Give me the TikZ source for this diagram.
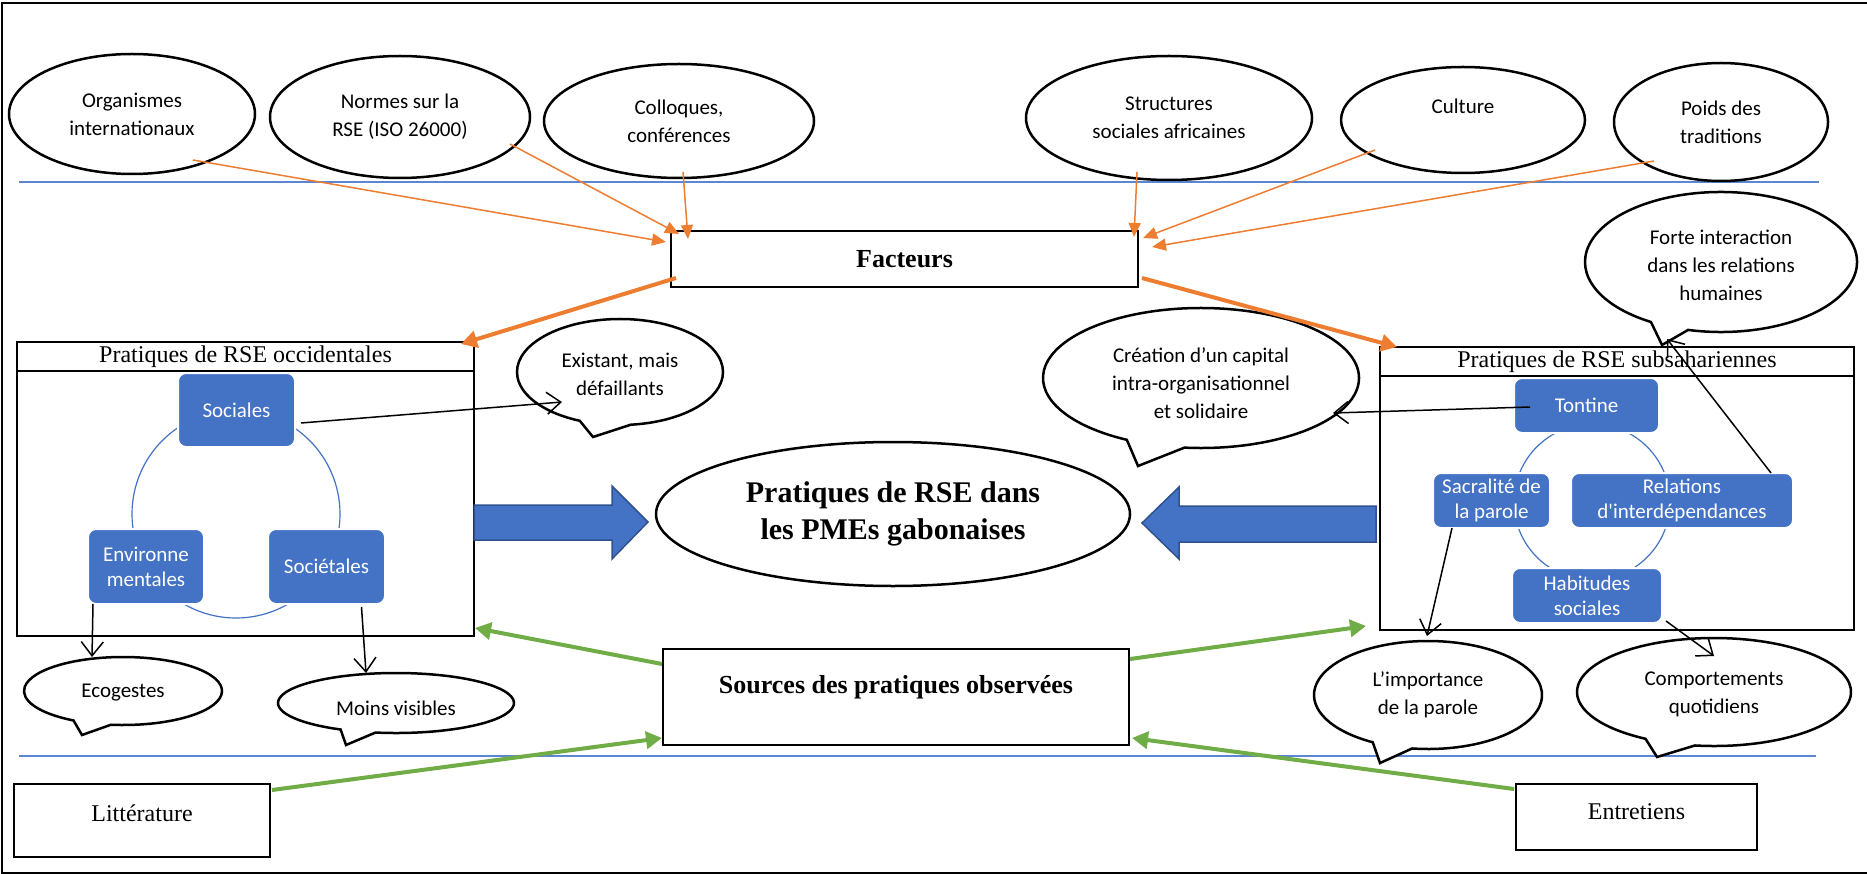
\documentclass[tikz,border=0pt]{standalone}
\usepackage{fontspec}
\setmainfont{Liberation Serif}
\newfontfamily\calib{Carlito}
\usetikzlibrary{shapes.geometric,arrows.meta}
\definecolor{bxblue}{HTML}{4472C4}
\definecolor{bxdark}{HTML}{2F528F}
\definecolor{orng}{HTML}{ED7D31}
\definecolor{grn}{HTML}{70AD47}
\definecolor{sepblue}{HTML}{5B86D1}
\newcommand\mycallout[8]{%
  \draw[callshape] (#1,#2) ++(#5:#3 and #4) arc[start angle=#5, end angle=#6, x radius=#3, y radius=#4] -- (#7,#8) -- cycle;}
\begin{document}
\begin{tikzpicture}[x=1pt,y=-1pt,
  oval/.style={ellipse, draw, line width=2.5pt, fill=white, inner sep=0pt, align=center, font=\calib\fontsize{21}{28}\selectfont},
  calltext/.style={inner sep=0pt, align=center, font=\calib\fontsize{21}{28}\selectfont},
  callshape/.style={draw, line width=2.5pt, fill=white, line join=miter},
  plainbox/.style={rectangle, draw, line width=2pt, fill=white, inner sep=0pt},
  bbox/.style={rectangle, rounded corners=8pt, fill=bxblue, draw=white, line width=2pt, text=white, inner sep=0pt, align=center, font=\calib\fontsize{21}{25}\selectfont},
  sepline/.style={draw=sepblue, line width=1.5pt},
  thinor/.style={draw=orng, line width=1.5pt, -{Triangle[length=14pt,width=12pt]}},
  thickor/.style={draw=orng, line width=4pt, -{Triangle[length=16pt,width=17pt]}},
  grarrow/.style={draw=grn, line width=4pt, -{Triangle[length=16pt,width=17pt]}},
  blk/.style={draw=black, line width=1.5pt, -{Straight Barb[length=14pt,width=22pt]}},
  ringline/.style={draw=bxblue, line width=1.2pt},
  blockarrow/.style={fill=bxblue, draw=bxdark, line width=1.5pt, line join=miter},
  sertitle/.style={inner sep=0pt, font=\fontsize{24}{28}\selectfont},
  boldtitle/.style={inner sep=0pt, font=\bfseries\fontsize{26}{30}\selectfont}
]
\useasboundingbox (0,0) rectangle (1867,874);
% frame
\draw[line width=2pt] (1867,3) -- (1.5,3) -- (1.5,872.5) -- (1867,872.5);
\draw[sepline] (19,182) -- (1819,182);
\draw[sepline] (19,756) -- (1816,756);

% top ellipses
\node[oval, minimum width=246, minimum height=120] (org) at (132,114) {Organismes\\internationaux};
\node[oval, minimum width=260, minimum height=122] (normes) at (400,117) {Normes sur la\\RSE (ISO 26000)};
\node[oval, minimum width=270, minimum height=114] (coll) at (679,121) {Colloques,\\conférences};
\node[oval, minimum width=286, minimum height=124] (struct) at (1169,118) {Structures\\sociales africaines};
\node[oval, minimum width=244, minimum height=106] (cult) at (1463,120) {Culture\\[0pt]\mbox{}};
\node[oval, minimum width=214, minimum height=118] (poids) at (1721,122) {Poids des\\traditions};

% Facteurs
\node[plainbox, minimum width=467, minimum height=56, font=\bfseries\fontsize{26}{30}\selectfont] (fact) at (904.5,259) {Facteurs};

\draw[thinor] ([shift={(61,46)}]org.center) -- ([shift={(-4,12)}]fact.north west);
\draw[thinor] ([shift={(110,27)}]normes.center) -- ([shift={(9,4)}]fact.north west);
\draw[thinor] ([shift={(4,51)}]coll.center) -- ([shift={(18,9)}]fact.north west);
\draw[thinor] ([shift={(-32,54)}]struct.center) -- ([shift={(-5,7)}]fact.north east);
\draw[thinor] ([shift={(-88,30)}]cult.center) -- ([shift={(4,8)}]fact.north east);
\draw[thinor] ([shift={(-67,39)}]poids.center) -- ([shift={(13,17)}]fact.north east);

% left practices box
\node[plainbox, minimum width=457, minimum height=294] (lbox) at (245.5,489) {};
\draw[line width=2pt] (lbox.west |- 0,371) -- (lbox.east |- 0,371);
\node[sertitle] (ltitle) at (245.5,357) {Pratiques de RSE occidentales};
\draw[ringline] (236,514) circle[radius=104];
\node[bbox, minimum width=117, minimum height=74] (soc) at (236.5,410) {Sociales};
\node[bbox, minimum width=116, minimum height=75] (env) at (146,566.5) {Environne\\mentales};
\node[bbox, minimum width=117, minimum height=75] (societ) at (326.5,566.5) {Sociétales};

% right practices box
\node[plainbox, minimum width=474, minimum height=283] (rbox) at (1617,488.5) {};
\draw[line width=2pt] (rbox.west |- 0,376) -- (rbox.east |- 0,376);
\node[sertitle] (rtitle) at (1617,362) {Pratiques de RSE subsahariennes};
\draw[ringline] (1592,502) circle[radius=78];
\node[bbox, minimum width=145, minimum height=55] (tont) at (1586.5,405.5) {Tontine};
\node[bbox, minimum width=117, minimum height=55] (sacr) at (1491.5,500.5) {Sacralité de\\la parole};
\node[bbox, minimum width=222, minimum height=55] (rel) at (1682,500.5) {Relations\\d'interdépendances};
\node[bbox, minimum width=150, minimum height=55] (hab) at (1587,595.5) {Habitudes\\sociales};

% central ellipse
\node[oval, minimum width=474, minimum height=144, font=\normalfont\bfseries\fontsize{30}{37}\selectfont] (pme) at (893,514) {Pratiques de RSE dans\\les PMEs gabonaises};

% block arrows
\draw[blockarrow] (474,505) -- (612,505) -- (612,486) -- (648,522) -- (612,559) -- (612,540) -- (474,540) -- cycle;
\draw[blockarrow] (1376,506) -- (1179,506) -- (1179,487) -- (1142,523) -- (1179,559) -- (1179,542) -- (1376,542) -- cycle;

% sources
\node[plainbox, minimum width=466, minimum height=96] (src) at (896,697) {};
\node[boldtitle] (srctext) at (896,687) {Sources des pratiques observées};
\node[plainbox, minimum width=256, minimum height=73] (litt) at (142,820.5) {};
\node[sertitle] (litttext) at (142,813) {Littérature};
\node[plainbox, minimum width=241, minimum height=66] (entr) at (1636.5,817) {};
\node[sertitle] (entrtext) at (1636.5,812) {Entretiens};

% callouts
\mycallout{620}{372}{103}{53}{84}{-247}{593}{437}
\node[calltext] (exist) at (620,374) {Existant, mais\\défaillants};
\mycallout{1201}{378}{158}{70}{96}{-242}{1138}{466}
\node[calltext] (creat) at (1201,383) {Création d’un capital\\intra-organisationnel\\et solidaire};
\mycallout{1721}{262}{136}{70}{104}{-239}{1662}{345}
\node[calltext] (forte) at (1721,265) {Forte interaction\\dans les relations\\humaines};
\mycallout{123}{691}{99}{34}{97}{-240}{82}{735}
\node[calltext] (eco) at (123,693) {Ecogestes};
\mycallout{396}{703}{118}{30}{100}{-242}{346}{745}
\node[calltext] (moins) at (396,708) {Moins visibles};
\mycallout{1428}{695}{114}{54}{98}{-241}{1380}{763}
\node[calltext] (limp) at (1428,695) {L’importance\\de la parole};
\mycallout{1714}{692}{137}{54}{98}{-240}{1657}{757}
\node[calltext] (comp) at (1714,694) {Comportements\\quotidiens};

% black connectors
\draw[blk] ([shift={(5,13)}]soc.east) -- ([shift={(-58,28)}]exist.center);
\draw[blk] ([shift={(6,-1)}]env.south west) -- ([shift={(-31,-36)}]eco.center);
\draw[blk] ([shift={(35,2)}]societ.south) -- ([shift={(-30,-35)}]moins.center);
\draw[blk] ([shift={(17,1.5)}]tont.west) -- ([shift={(132,30)}]creat.center);
\draw[blk] ([shift={(-23,1)}]rel.north east) -- ([shift={(-54,74)}]forte.center);
\draw[blk] ([shift={(-39.5,-1)}]sacr.south) -- ([shift={(-1,-59)}]limp.center);
\draw[blk] ([shift={(3,-3)}]hab.south east) -- ([shift={(0,-38)}]comp.center);

% thick orange
\draw[thickor] ([shift={(6,-10)}]fact.south west) -- ([shift={(-14,3)}]lbox.north east);
\draw[thickor] ([shift={(3,-10)}]fact.south east) -- ([shift={(18,1)}]rbox.north west);
% green
\draw[grarrow] ([shift={(0,16)}]src.north west) -- ([shift={(0,-9)}]lbox.south east);
\draw[grarrow] ([shift={(0,11)}]src.north east) -- ([shift={(-13,-5)}]rbox.south west);
\draw[grarrow] ([shift={(1,7)}]litt.north east) -- ([shift={(0,-8)}]src.south west);
\draw[grarrow] ([shift={(-1,6)}]entr.north west) -- ([shift={(2,-8)}]src.south east);
\end{tikzpicture}
\end{document}
